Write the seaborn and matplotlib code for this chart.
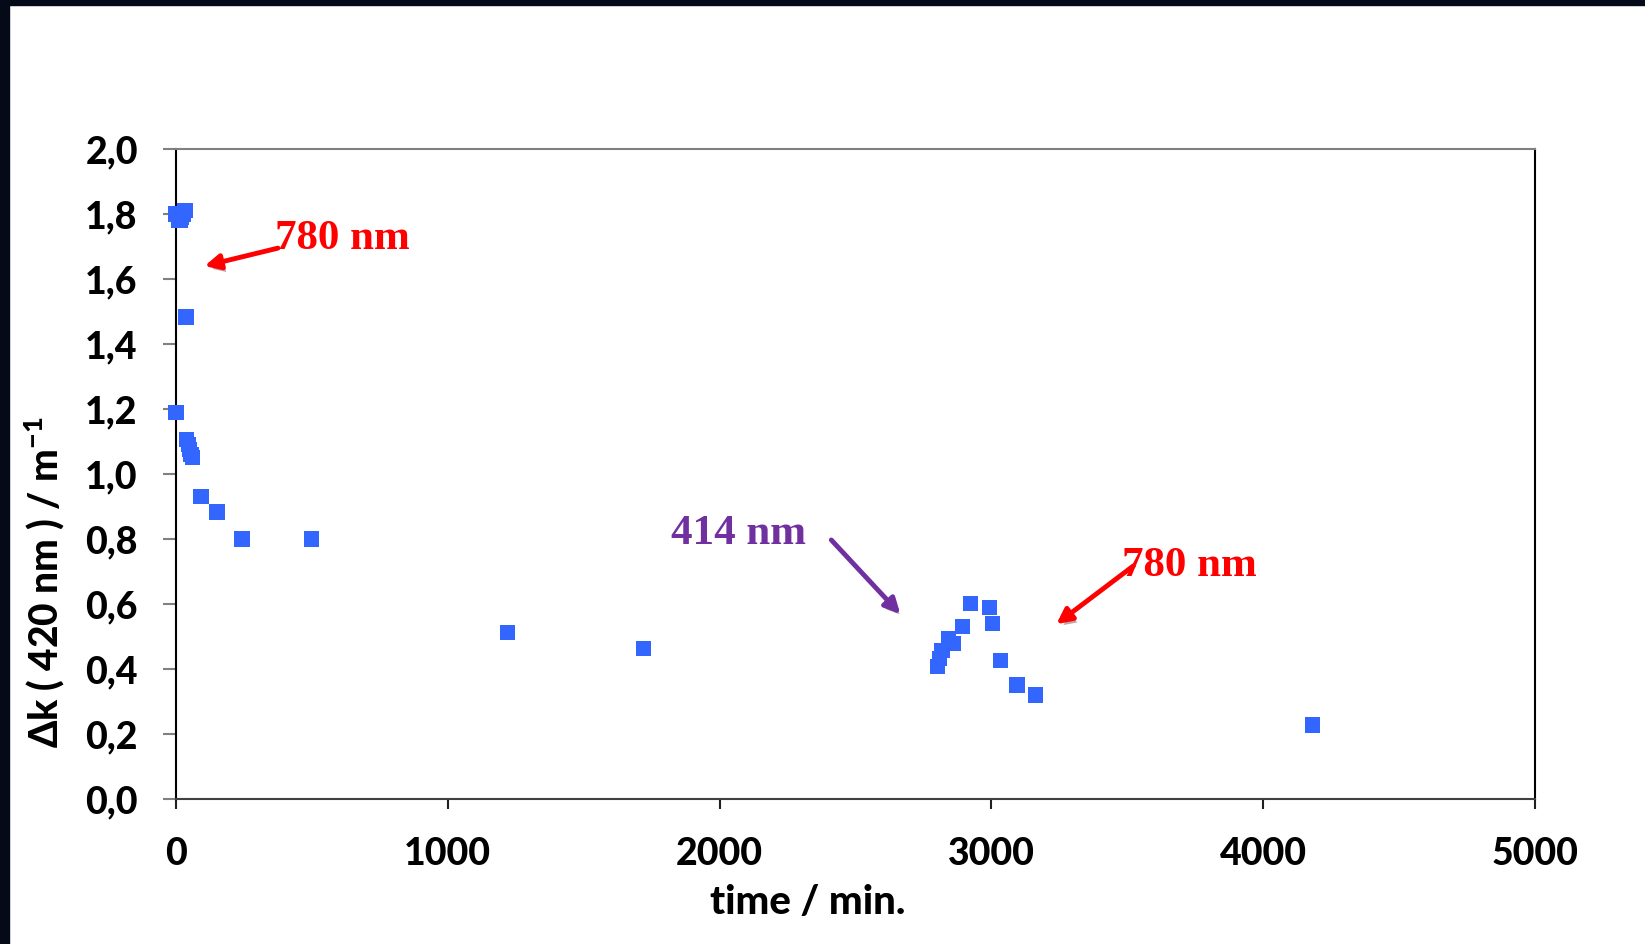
import matplotlib
matplotlib.use("Agg")
import matplotlib.pyplot as plt
import matplotlib.patheffects as pe
from matplotlib.patches import Rectangle
import seaborn as sns
import pandas as pd

# measured points: time (min) and delta k at 420 nm
time_min = [0, 10, 15, 20, 28, 33, 37, 0, 40, 45, 50, 55, 62, 92, 151, 243, 499,
            1221, 1720, 2803, 2809, 2818, 2843, 2861, 2893, 2922, 2993, 3003,
            3033, 3094, 3163, 4180]
delta_k = [1.80, 1.78, 1.78, 1.79, 1.80, 1.81, 1.483, 1.19, 1.105, 1.09, 1.075,
           1.06, 1.05, 0.93, 0.883, 0.80, 0.80, 0.512, 0.464, 0.407, 0.432,
           0.458, 0.494, 0.479, 0.530, 0.602, 0.589, 0.539, 0.426, 0.351,
           0.320, 0.228]

x_ticks = [0, 1000, 2000, 3000, 4000, 5000]
y_ticks = [0.0, 0.2, 0.4, 0.6, 0.8, 1.0, 1.2, 1.4, 1.6, 1.8, 2.0]
y_tick_labels = ["0,0", "0,2", "0,4", "0,6", "0,8", "1,0", "1,2", "1,4", "1,6", "1,8", "2,0"]

# annotations: text, text pos, arrow tail, arrow tip, colour
notes = [
    ("780 nm", (364, 1.722), (375, 1.695), (105, 1.64), "#FF0000"),
    ("414 nm", (1822, 0.815), (2411, 0.797), (2665, 0.569), "#7030A0"),
    ("780 nm", (3482, 0.716), (3522, 0.717), (3239, 0.538), "#FF0000"),
]

df = pd.DataFrame({"time": time_min, "dk": delta_k})

sns.set_style("white")
plt.rcParams["font.family"] = ["Lato", "DejaVu Sans"]
plt.rcParams["text.color"] = "black"
plt.rcParams["axes.labelcolor"] = "black"
plt.rcParams["mathtext.fontset"] = "custom"
plt.rcParams["mathtext.rm"] = "Lato"
plt.rcParams["mathtext.bf"] = "Lato:black"

fig = plt.figure(figsize=(16.45, 9.44), dpi=100)
fig.patches.append(Rectangle((0, 0), 9 / 1645, 1, transform=fig.transFigure,
                             color="#040a18", zorder=10))
fig.patches.append(Rectangle((0, 1 - 5 / 944), 1, 5 / 944, transform=fig.transFigure,
                             color="#040a18", zorder=10))
ax = fig.add_axes([176 / 1645, 1 - 799 / 944, 1359 / 1645, 650 / 944])

sns.scatterplot(data=df, x="time", y="dk", marker="s", s=120, color="#3366FF",
                edgecolor="none", ax=ax, zorder=3, clip_on=False)

ax.set_xlim(0, 5000)
ax.set_ylim(0, 2.0)
ax.set_xticks(x_ticks)
ax.set_xticklabels([str(t) for t in x_ticks])
ax.set_yticks(y_ticks)
ax.set_yticklabels(y_tick_labels)

for lab in ax.get_xticklabels() + ax.get_yticklabels():
    lab.set_fontsize(27)
    lab.set_fontweight("black")

ax.tick_params(axis="y", direction="out", length=9.5, width=1.5, color="#808080",
               labelcolor="black", pad=18, left=True)
ax.tick_params(axis="x", direction="out", length=7.5, width=1.5, color="#202020",
               labelcolor="black", pad=20, bottom=True)

ax.spines["top"].set_color("#808080")
ax.spines["left"].set_color("black")
ax.spines["right"].set_color("black")
ax.spines["bottom"].set_color("#404040")
for s in ax.spines.values():
    s.set_linewidth(1.5)

ax.set_xlabel("time / min.", fontsize=29, fontweight="black", color="black")
ax.xaxis.set_label_coords(0.465, -0.13)
ax.set_ylabel(r"Δk ( 420 nm ) / m$^{\mathbf{-1}}$", fontsize=28, fontweight="black",
              color="black")
ax.yaxis.set_label_coords(-0.081, 0.334)

shadow = [pe.SimplePatchShadow(offset=(2, -3), alpha=0.35), pe.Normal()]
for txt, tpos, tail, tip, col in notes:
    ax.text(tpos[0], tpos[1], txt, color=col, fontsize=31, fontweight="bold",
            family="Liberation Serif", va="center", ha="left")
    ax.annotate("", xy=tip, xytext=tail,
                arrowprops=dict(arrowstyle="-|>,head_length=0.9,head_width=0.45",
                                color=col, lw=3.5, shrinkA=0, shrinkB=0,
                                path_effects=shadow))

fig.savefig("out.png", dpi=100)
